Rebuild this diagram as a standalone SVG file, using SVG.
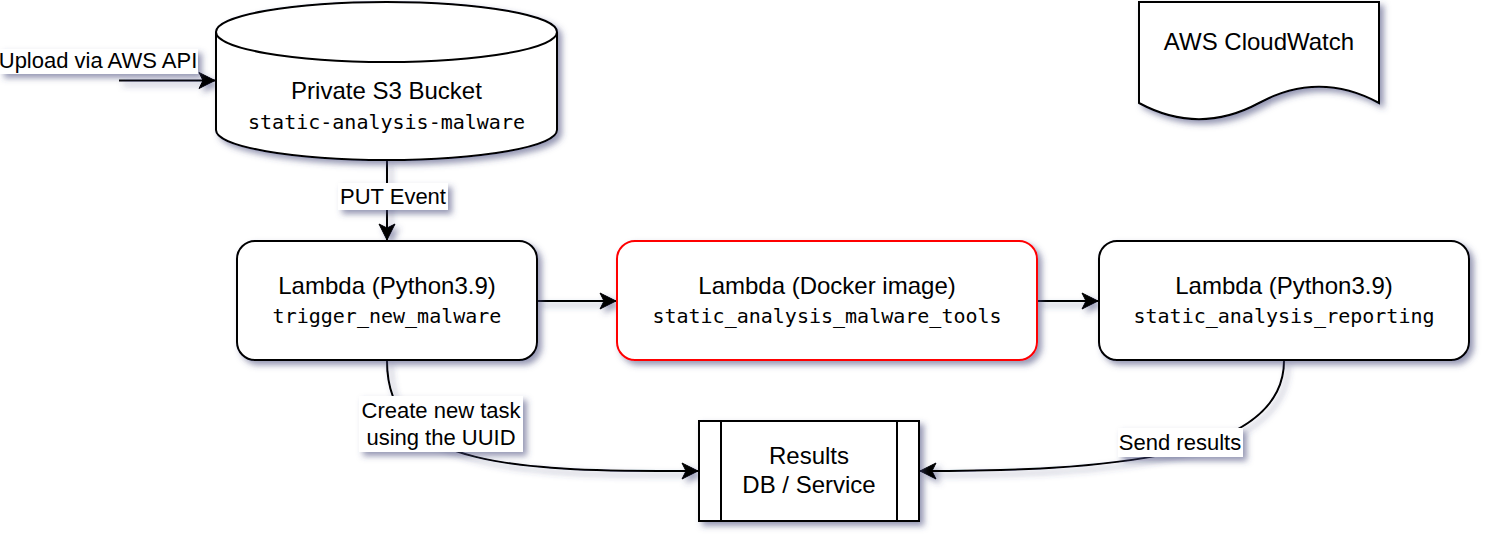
<svg xmlns="http://www.w3.org/2000/svg" width="1492" height="544" viewBox="0 0 1492 544">
  <style>
    .shape { fill: #ffffff; stroke: #000000; stroke-width: 2; }
    .red { stroke: #ff0000; }
    .t { font-family: "Liberation Sans", Arial, sans-serif; font-size: 24px; fill: #000000; text-anchor: middle; }
    .m { font-family: "DejaVu Sans Mono", "Liberation Mono", monospace; font-size: 20px; fill: #000000; text-anchor: middle; }
    .lbl { font-family: "Liberation Sans", Arial, sans-serif; font-size: 22px; fill: #000000; text-anchor: middle; }
    .lblbg { fill: #ffffff; stroke: none; }
    .edge { fill: none; stroke: #000000; stroke-width: 2; }
  </style>
  <defs>
    <filter id="sh" x="-10%" y="-10%" width="130%" height="150%">
      <feDropShadow dx="4" dy="4" stdDeviation="3" flood-color="#3D4574" flood-opacity="0.55"/>
    </filter>
    <marker id="arr" markerUnits="userSpaceOnUse" viewBox="-17 -9 18 18" refX="0" refY="0" markerWidth="18" markerHeight="18" orient="auto">
      <path d="M0,0 L-16,-8 L-12,0 L-16,8 Z" fill="#000000" stroke="#000000" stroke-width="1"/>
    </marker>
  </defs>
  <rect width="1492" height="544" fill="#ffffff"/>

  <g id="connectors" filter="url(#sh)">
    <path class="edge" d="M119,80.5 L215,80.5" marker-end="url(#arr)"/>
    <path class="edge" d="M387,161 L387,240" marker-end="url(#arr)"/>
    <path class="edge" d="M537,301 L616,301" marker-end="url(#arr)"/>
    <path class="edge" d="M1037,301 L1098,301" marker-end="url(#arr)"/>
    <path class="edge" d="M387,361 C387,470 520,471 698,471" marker-end="url(#arr)"/>
    <path class="edge" d="M1284,361 C1284,460 1100,471 920,471" marker-end="url(#arr)"/>
  </g>

  <g id="edge-labels">
    <g filter="url(#sh)">
      <rect class="lblbg" x="0" y="49" width="198" height="25"/>
      <rect class="lblbg" x="338" y="183" width="110" height="27"/>
      <rect class="lblbg" x="359" y="396" width="164" height="56"/>
      <rect class="lblbg" x="1118" y="428" width="125" height="29"/>
    </g>
    <text class="lbl" x="98" y="68">Upload via AWS API</text>
    <text class="lbl" x="393" y="204">PUT Event</text>
    <text class="lbl" x="441" y="418">Create new task</text>
    <text class="lbl" x="441" y="445">using the UUID</text>
    <text class="lbl" x="1180" y="450">Send results</text>
  </g>

  <g id="s3-bucket">
    <path class="shape" filter="url(#sh)" d="M216,32 A170.5,30 0 0 1 557,32 L557,130 A170.5,30 0 0 1 216,130 Z"/>
    <path class="edge" d="M216,32 A170.5,30 0 0 0 557,32"/>
    <text class="t" x="386.5" y="99">Private S3 Bucket</text>
    <text class="m" x="386.5" y="129">static-analysis-malware</text>
  </g>

  <g id="cloudwatch">
    <path class="shape" filter="url(#sh)" d="M1139,2 L1379,2 L1379,103 Q1319,70.6 1259,103 Q1199,135.4 1139,103 Z"/>
    <text class="t" x="1259" y="50">AWS CloudWatch</text>
  </g>

  <g id="lambda-trigger">
    <rect class="shape" filter="url(#sh)" x="237" y="241" width="300" height="119" rx="18" ry="18"/>
    <text class="t" x="387" y="294">Lambda (Python3.9)</text>
    <text class="m" x="387" y="323">trigger_new_malware</text>
  </g>

  <g id="lambda-docker">
    <rect class="shape red" filter="url(#sh)" x="617" y="241" width="420" height="119" rx="18" ry="18"/>
    <text class="t" x="827" y="294">Lambda (Docker image)</text>
    <text class="m" x="827" y="323">static_analysis_malware_tools</text>
  </g>

  <g id="lambda-reporting">
    <rect class="shape" filter="url(#sh)" x="1099" y="241" width="370" height="119" rx="18" ry="18"/>
    <text class="t" x="1284" y="294">Lambda (Python3.9)</text>
    <text class="m" x="1284" y="323">static_analysis_reporting</text>
  </g>

  <g id="results">
    <rect class="shape" filter="url(#sh)" x="699" y="421" width="220" height="100"/>
    <line class="edge" x1="721" y1="421" x2="721" y2="521"/>
    <line class="edge" x1="897" y1="421" x2="897" y2="521"/>
    <text class="t" x="809" y="464">Results</text>
    <text class="t" x="809" y="493">DB / Service</text>
  </g>
</svg>
